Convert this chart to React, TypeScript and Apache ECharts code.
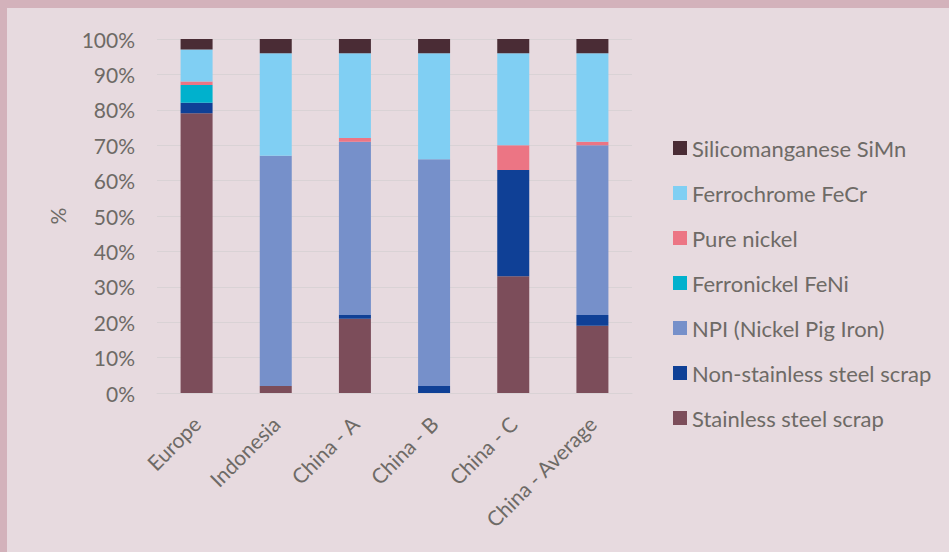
import React, { useEffect, useRef } from "react";
import * as echarts from "echarts";

const categories = ["Europe", "Indonesia", "China - A", "China - B", "China - C", "China - Average"];
const stainlessScrap = [79, 2, 21, 0, 33, 19];
const nonStainlessScrap = [3, 0, 1, 2, 30, 3];
const npi = [0, 65, 49, 64, 0, 48];
const ferronickel = [5, 0, 0, 0, 0, 0];
const pureNickel = [1, 0, 1, 0, 7, 1];
const ferrochrome = [9, 29, 24, 30, 26, 25];
const silicomanganese = [3, 4, 4, 4, 4, 4];
const yTicks = [0, 10, 20, 30, 40, 50, 60, 70, 80, 90, 100];

const seriesDefs = [
  { name: "Stainless steel scrap", data: stainlessScrap, color: "#7c4d5a" },
  { name: "Non-stainless steel scrap", data: nonStainlessScrap, color: "#0f4096" },
  { name: "NPI (Nickel Pig Iron)", data: npi, color: "#7690ca" },
  { name: "Ferronickel FeNi", data: ferronickel, color: "#00b1cd" },
  { name: "Pure nickel", data: pureNickel, color: "#ec7584" },
  { name: "Ferrochrome FeCr", data: ferrochrome, color: "#80cff3" },
  { name: "Silicomanganese SiMn", data: silicomanganese, color: "#4a2c35" },
];

const FONT = "Lato";
const TEXT = "#6e6a66";

export default function App() {
  const ref = useRef<HTMLDivElement>(null);
  useEffect(() => {
    document.body.style.margin = "0";
    document.body.style.background = "#d3b2bb";
    const chart = echarts.init(ref.current!, null, { renderer: "svg" });
    chart.setOption({
      animation: false,
      backgroundColor: "#e7dadf",
      textStyle: { fontFamily: FONT },
      grid: { left: 150, top: 31, width: 475, height: 354 },
      legend: {
        orient: "vertical",
        left: 661,
        top: 124,
        itemWidth: 14,
        itemHeight: 14,
        itemGap: 23,
        icon: "rect",
        data: seriesDefs.map((s) => s.name).reverse(),
        textStyle: { fontFamily: FONT, fontSize: 22, color: TEXT },
      },
      xAxis: {
        type: "category",
        data: categories,
        axisLine: { show: true, lineStyle: { color: "#d9d2d5", width: 1 } },
        axisTick: { show: false },
        axisLabel: {
          rotate: 45,
          margin: 27,
          padding: [10, 0, 0, 0],
          interval: 0,
          fontFamily: FONT,
          fontSize: 21,
          color: TEXT,
        },
      },
      yAxis: {
        type: "value",
        min: 0,
        max: 100,
        interval: 10,
        name: "%",
        nameLocation: "middle",
        nameRotate: 90,
        nameGap: 89,
        nameTextStyle: { fontFamily: FONT, fontSize: 21, color: TEXT },
        axisLine: { show: false },
        axisTick: { show: false },
        splitLine: { lineStyle: { color: "#d9d2d5", width: 1 } },
        axisLabel: {
          margin: 22,
          fontFamily: FONT,
          fontSize: 21,
          color: TEXT,
          formatter: (v: number) => (yTicks.includes(v) ? v + "%" : ""),
        },
      },
      series: seriesDefs.map((s) => ({
        name: s.name,
        type: "bar",
        stack: "total",
        barWidth: 32,
        data: s.data,
        itemStyle: { color: s.color },
      })),
    });
    return () => chart.dispose();
  }, []);
  return (
    <div
      ref={ref}
      style={{
        position: "absolute",
        left: 7,
        top: 8,
        width: 942,
        height: 544,
        boxShadow: "inset 1px 1px 0 #ede4e7",
      }}
    />
  );
}
